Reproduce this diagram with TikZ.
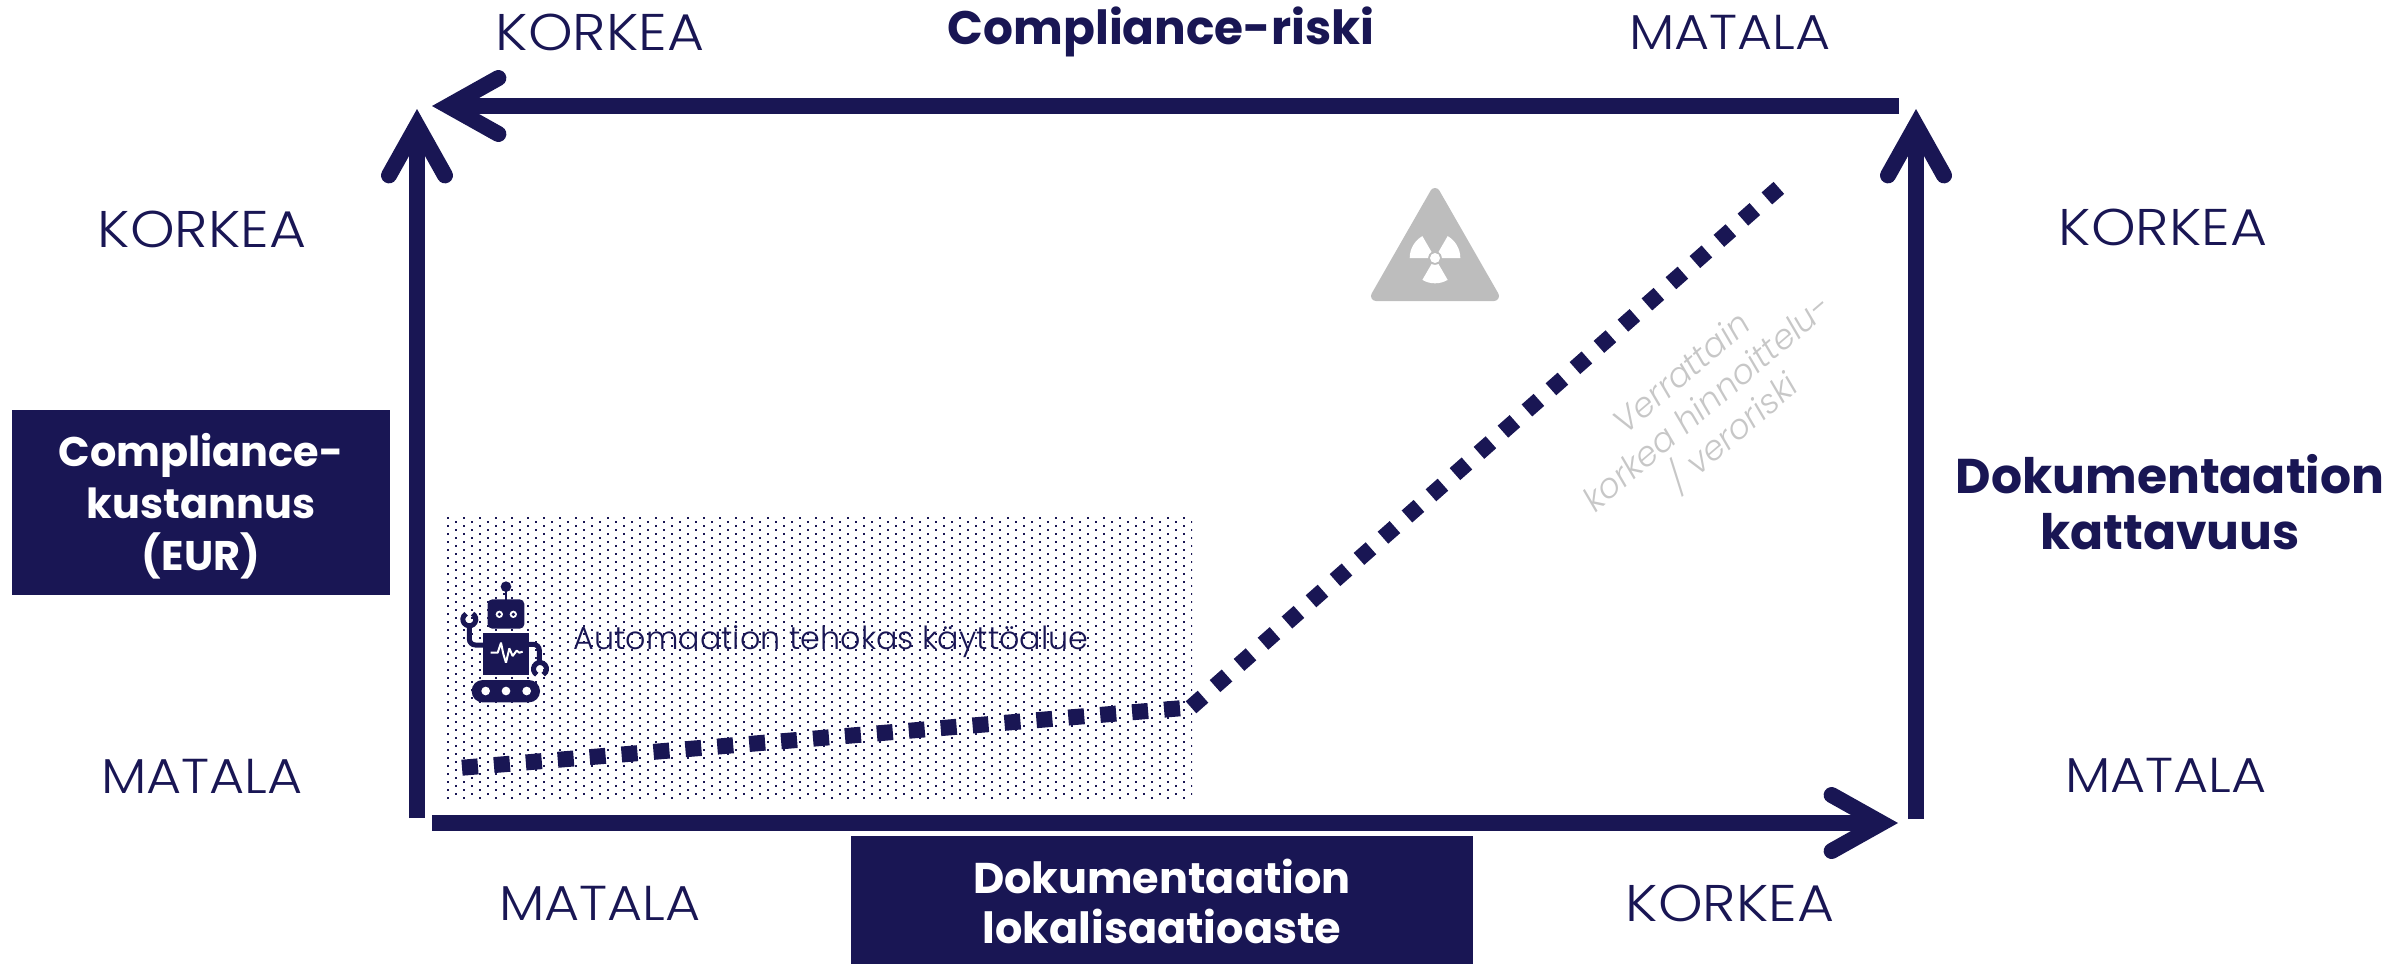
\documentclass[tikz,border=0pt]{standalone}
\usepackage{fontspec}
\setmainfont{Poppins}
\newfontfamily\lightf[FakeStretch=1.1]{Poppins Light}
\newfontfamily\lightn{Poppins Light}
\usetikzlibrary{arrows.meta}
\definecolor{navy}{HTML}{191654}
\definecolor{softgray}{HTML}{BDBDBD}
\tikzset{
  axis/.style={draw=navy,line width=8pt,-{Straight Barb[length=25pt,width=28pt,line width=8pt,line cap=round,line join=miter]}},
  levelhigh/.style={text=navy,font=\lightf\fontsize{25.8}{28}\selectfont,inner sep=0pt},
  levellow/.style={text=navy,font=\lightf\fontsize{24.5}{28}\selectfont,inner sep=0pt},
  heading/.style={text=navy,font=\bfseries\fontsize{24.4}{28}\selectfont,align=center,inner sep=0pt},
  banner/.style={fill=navy,text=white,font=\bfseries\fontsize{21.5}{25}\selectfont,align=center,inner sep=0pt},
  costline/.style={draw=navy,line width=8pt,dash pattern=on 8pt off 8.01pt},
  gnote/.style={text=softgray!85,font=\lightn\itshape\fontsize{16.9}{19.5}\selectfont,align=center,inner sep=0pt,rotate=40.5},
  dotrow/.style={draw=navy,line width=1pt,dash pattern=on 1pt off 7pt}
}
\begin{document}
\begin{tikzpicture}[x=0.5pt,y=-0.5pt]
\useasboundingbox (0,0) rectangle (2392,966);
% dotted zone
\begin{scope}
\clip (447,517) rectangle (1192,798);
\foreach \r in {0,1,...,70}{
  \pgfmathsetmacro{\yy}{518+4*\r}
  \pgfmathsetmacro{\xx}{int(mod(\r,2))==0 ? 447 : 455}
  \draw[dotrow] (\xx,\yy) -- (1193,\yy);
}
\end{scope}
% axes
\coordinate (bl) at (417,818);
\coordinate (tl) at (417,109);
\coordinate (tr) at (1899,106);
\coordinate (tle) at (432,106);
\coordinate (ble) at (432,823);
\coordinate (bre) at (1898,823);
\coordinate (br) at (1916,819);
\coordinate (tre) at (1916,109);
\draw[axis] (bl) -- (tl);
\draw[axis] (tr) -- (tle);
\draw[axis] (ble) -- (bre);
\draw[axis] (br) -- (tre);
% cost curve
\coordinate (c0) at (462,767.7);
\coordinate (c1) at (1180,708.3);
\coordinate (c2) at (1191,707.3);
\coordinate (c3) at (1779,187.7);
\draw[costline] (c0) -- (c1);
\draw[costline] (c2) -- (c3);
% labels
\node[levelhigh] (l1) at (600,32) {KORKEA};
\node[levellow] (l2) at (1730,32) {MATALA};
\node[levelhigh] (l3) at (202,229) {KORKEA};
\node[levellow] (l4) at (202,776) {MATALA};
\node[levelhigh] (l5) at (2163,227) {KORKEA};
\node[levellow] (l6) at (2166,775) {MATALA};
\node[levellow] (l7) at (600,903) {MATALA};
\node[levelhigh] (l8) at (1730,903) {KORKEA};
\node[heading,font=\bfseries\fontsize{23.5}{28}\selectfont] (h1) at (1161,32) {Compliance-riski};
\node[heading] (h2) at (2170,502) {Dokumentaation\\kattavuus};
\node[banner,minimum width=189pt,minimum height=92.5pt,font=\bfseries\fontsize{20.7}{26}\selectfont] (b1) at (201,502.5) {\rule{0pt}{20pt}Compliance-\\kustannus\\(EUR)};
\node[banner,minimum width=311pt,minimum height=64pt] (b2) at (1162,900) {\rule{0pt}{19pt}Dokumentaation\\lokalisaatioaste};
\node[text=navy,font=\lightn\fontsize{15.9}{18}\selectfont,inner sep=0pt] (zone) at (831,642) {Automaation tehokas käyttöalue};
\node[gnote] (note) at (1708,404) {Verrattain\\korkea hinnoittelu-\\/ veroriski};
% hazard sign
\begin{scope}[shift={(1435,258)}]
  \filldraw[softgray,line width=5pt,line join=round] (-59,38) -- (59,38) -- (0,-65) -- cycle;
  \foreach \a in {180,300,60}{
    \pgfmathsetmacro{\b}{\a+60}
    \fill[white] (\a:7) -- (\a:25.3) arc (\a:\b:25.3) -- (\b:7) arc (\b:\a:7) -- cycle;
  }
  \fill[white] (0,0) circle (5);
\end{scope}
% robot
\begin{scope}[shift={(420,520)},scale=1/3]
  \draw[navy,line width=1.4pt] (258,200) -- (258,240);
  \fill[navy] (258,200) circle (16);
  \fill[navy,rounded corners=2.3pt] (203,238) rectangle (313,326);
  \fill[white] (238,283) circle (11) (280,283) circle (11);
  \fill[navy] (238,283) circle (5.5) (280,283) circle (5.5);
  \fill[navy] (190,340) rectangle (326,465);
  \draw[white,line width=1pt,line join=bevel] (212,398) -- (233,398) -- (243,368) -- (250,402) -- (258,428) -- (268,385) -- (278,408) -- (290,392) -- (298,398) -- (308,395);
  \draw[navy,line width=2.5pt,rounded corners=3pt] (190,375) -- (148,375) -- (148,318);
  \draw[navy,line width=2.5pt,rounded corners=3pt] (326,373) -- (358,373) -- (358,425);
  \draw[navy,line width=2.5pt] (157.75,281.1) arc (-60:240:19.5);
  \draw[navy,line width=2.5pt] (350.25,463.9) arc (120:420:19.5);
  \fill[navy,rounded corners=5.5pt] (155,480) rectangle (360,547);
  \fill[white] (197,513) circle (13) (258,513) circle (13) (320,513) circle (13);
\end{scope}
\end{tikzpicture}
\end{document}
